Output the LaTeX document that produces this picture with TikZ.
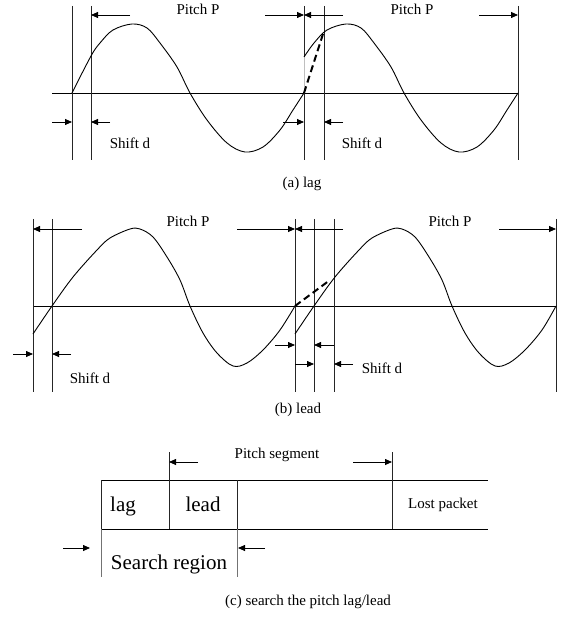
\documentclass[tikz,border=0pt]{standalone}
\usepackage{fontspec}
\setmainfont{Liberation Serif}
\usetikzlibrary{arrows.meta}
\tikzset{
  vl/.style={line width=0.8pt, draw=black!85},
  ax/.style={line width=0.8pt},
  wv/.style={line width=0.9pt, smooth, tension=0.55},
  ar/.style={-{Triangle[length=7pt,width=6pt]}, line width=0.8pt},
  dsh/.style={line width=2pt, dash pattern=on 7pt off 4pt},
  lbl/.style={font=\fontsize{15}{18}\selectfont, anchor=base, inner sep=0pt},
  blbl/.style={font=\fontsize{21}{25}\selectfont, anchor=base, inner sep=0pt},
}
\begin{document}
\begin{tikzpicture}[x=1pt, y=-1pt]
  \useasboundingbox (0,0) rectangle (570,617);

  % (a) lag
  \draw[ax] (52,93) -- (518,93);
  \foreach \x in {72,91,324,518} \draw[vl] (\x,6) -- (\x,160);
  \draw[vl] (304,6) -- (304,57) (304,93) -- (304,160);
  \draw[vl, black!25] (304,57) -- (304,93);
  \draw[wv] plot coordinates {(72,93) (91,56) (100,43) (113,30) (132,24) (147,28)
    (160,43) (177,67) (190,93) (207,120) (227,143) (245,152) (263,147) (280,130)
    (293,110) (304,93)};
  \draw[wv] plot coordinates {(304,57) (314,43) (327,30) (346,24) (361,28)
    (374,43) (391,67) (404,93) (421,120) (441,143) (459,152) (477,147) (494,130)
    (507,110) (518,93)};
  \draw[dsh] (304,93) -- (323,34);
  \draw[ar] (130,15) -- (91,15);
  \draw[ar] (265,15) -- (304,15);
  \draw[ar] (343,15) -- (304,15);
  \draw[ar] (479,15) -- (518,15);
  \node[lbl] (pa1) at (198,15) {Pitch P};
  \node[lbl] (pa2) at (412,15) {Pitch P};
  \draw[ar] (52,122) -- (72,122);
  \draw[ar] (110,122) -- (91,122);
  \draw[ar] (283,122) -- (304,122);
  \draw[ar] (343,122) -- (324,122);
  \node[lbl] (sa1) at (130,149) {Shift d};
  \node[lbl] (sa2) at (362,149) {Shift d};
  \node[lbl] (capa) at (302,188) {(a) lag};

  % (b) lead
  \draw[ax] (33,306) -- (556,306);
  \foreach \x in {33,52,295,314,334,556} \draw[vl] (\x,219) -- (\x,392);
  \draw[wv] plot coordinates {(33,334) (52,306) (73,277) (97,250) (110,238)
    (130,229) (140,229) (153,237) (167,257) (180,280) (190,306) (203,333)
    (217,353) (233,366) (247,363) (263,350) (280,330) (295,306)};
  \draw[wv] plot coordinates {(295,334) (314,306) (335,277) (359,250) (372,238)
    (392,229) (402,229) (415,237) (429,257) (442,280) (452,306) (465,333)
    (479,353) (495,366) (509,363) (525,350) (542,330) (556,306)};
  \draw[dsh] (295,306) -- (330,280);
  \draw[ar] (82,229) -- (33,229);
  \draw[ar] (237,229) -- (295,229);
  \draw[ar] (343,229) -- (295,229);
  \draw[ar] (499,229) -- (556,229);
  \node[lbl] (pb1) at (188,227) {Pitch P};
  \node[lbl] (pb2) at (450,227) {Pitch P};
  \draw[ar] (13,354) -- (33,354);
  \draw[ar] (71,354) -- (52,354);
  \draw[ar] (275,345) -- (295,345);
  \draw[ar] (334,345) -- (314,345);
  \draw[ar] (295,364) -- (314,364);
  \draw[ar] (353,364) -- (334,364);
  \node[lbl] (sb1) at (90,383) {Shift d};
  \node[lbl] (sb2) at (382,373) {Shift d};
  \node[lbl] (capb) at (298,413) {(b) lead};

  % (c) search the pitch lag/lead
  \draw[ax] (101,480) -- (488,480) (101,529) -- (488,529);
  \draw[vl] (101,480) -- (101,529) (237,480) -- (237,529);
  \draw[vl] (169,452) -- (169,529) (392,452) -- (392,529);
  \draw[vl, black!55] (101,529) -- (101,577) (237,529) -- (237,577);
  \draw[ar] (198,462) -- (169,462);
  \draw[ar] (353,462) -- (392,462);
  \node[lbl] (pseg) at (277,458) {Pitch segment};
  \node[blbl] (lag) at (123,511) {lag};
  \node[blbl] (lead) at (203,511) {lead};
  \node[lbl] (lost) at (443,508) {Lost packet};
  \draw[ar] (63,548) -- (90,548);
  \draw[ar] (265,548) -- (238,548);
  \node[blbl] (srch) at (169,569) {Search region};
  \node[lbl] (capc) at (308,605) {(c) search the pitch lag/lead};
\end{tikzpicture}
\end{document}
